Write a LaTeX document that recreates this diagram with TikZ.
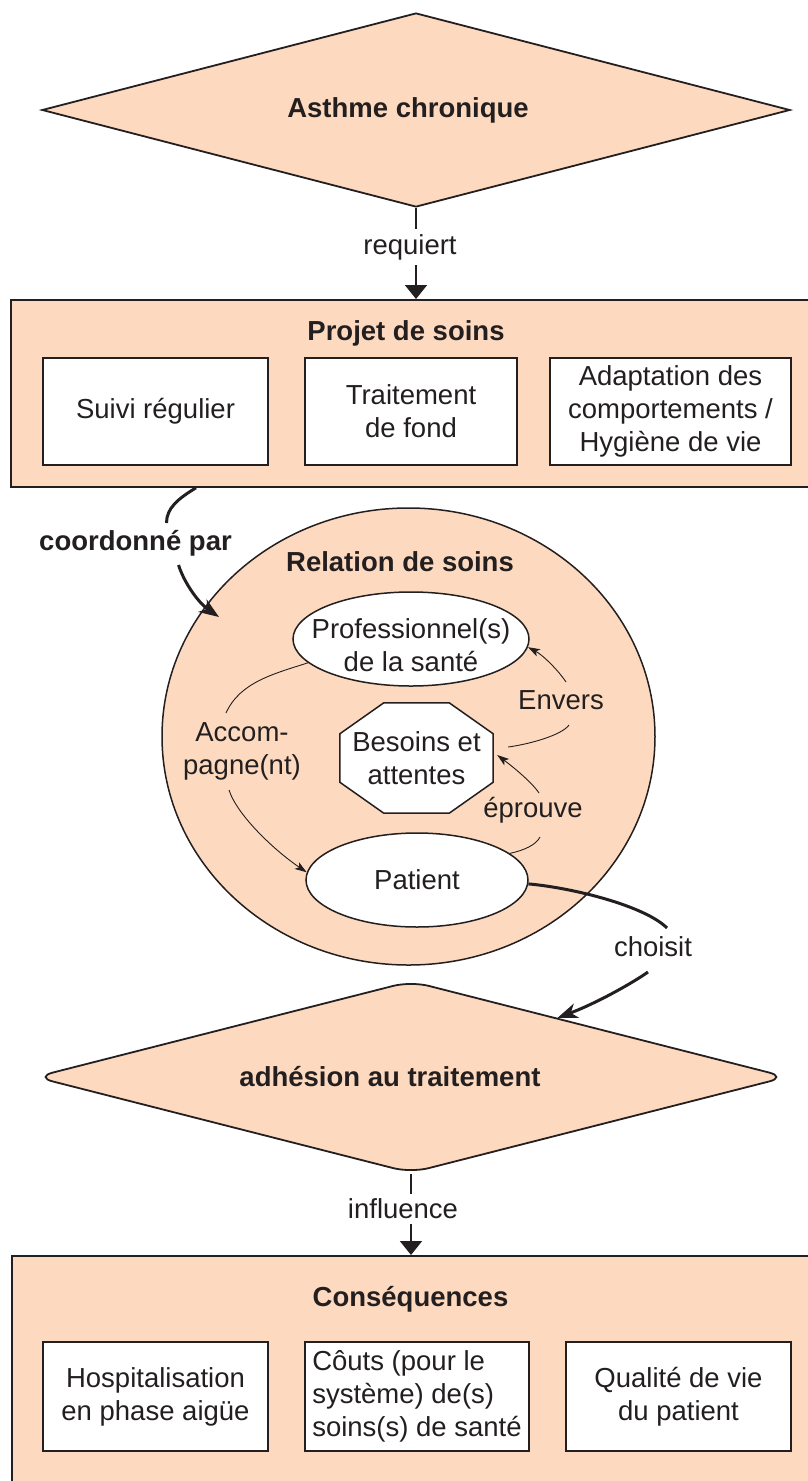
\documentclass[tikz,border=0pt]{standalone}
\usepackage{fontspec}
\setmainfont{Liberation Sans}
\usetikzlibrary{shapes.geometric,arrows.meta,calc}
\definecolor{peach}{RGB}{253,218,191}
\definecolor{ink}{RGB}{35,31,32}
\pgfdeclarelayer{fg}
\pgfsetlayers{main,fg}
\begin{document}
\begin{tikzpicture}[x=1pt,y=-1pt,
  txt/.style={font=\fontsize{27.5}{33}\selectfont, text=ink},
  hd/.style={font=\fontsize{27.5}{33}\selectfont\bfseries, text=ink},
  ol/.style={draw=ink, line width=1.5pt},
  panel/.style={ol, line width=1.8pt, fill=peach, inner sep=0pt},
  wbox/.style={ol, fill=white, inner sep=0pt, align=center, txt, minimum height=107pt},
  lbl/.style={txt, inner sep=0pt, align=center},
  flow/.style={draw=ink, line width=2pt, -{Triangle[length=14pt,width=22pt]}},
  heavyline/.style={draw=ink, line width=3pt},
  heavy/.style={heavyline, -{Stealth[length=20pt,width=15pt,inset=6pt]}},
  fine/.style={draw=ink, line width=0.9pt},
  finearrow/.style={fine, -{Stealth[length=12pt,width=8pt,inset=3pt]}}
]
\useasboundingbox (0,0) rectangle (807,1481);

% top diamond
\node[diamond, ol, line width=1.8pt, fill=peach, aspect=3.86, minimum width=748pt,
      minimum height=194pt, inner sep=0pt,
      label={[hd, xshift=-8pt]center:Asthme chronique}] (asthme) at (416,110) {};

% projet de soins
\node[panel, anchor=north west, minimum width=810pt, minimum height=187pt] (projet) at (10,299) {};
\draw[flow] (asthme.south) -- node[lbl, fill=white, inner sep=5pt, pos=0.43, xshift=-6pt] (req) {requiert} (asthme.south |- projet.north);
\node[hd] (projtitle) at (406,333) {Projet de soins};
\node[wbox, minimum width=225pt] (suivi) at (155.5,411.5) {Suivi régulier};
\node[wbox, minimum width=212pt] (trait) at (411,411.5) {Traitement\\de fond};
\node[wbox, minimum width=241pt] (adapt) at (670.5,411.5) {Adaptation des\\comportements /\\Hygiène de vie};

% relation de soins
\node[ellipse, ol, fill=peach, minimum width=493pt, minimum height=457pt, inner sep=0pt] (rel) at (408.5,736.5) {};
\node[hd] (reltitle) at (400,562) {Relation de soins};

\node[ellipse, ol, fill=white, minimum width=236pt, minimum height=94pt, inner sep=0pt,
      label={[lbl, yshift=-6pt]center:Professionnel(s)\\de la santé}] (prof) at (411,639) {};

\begin{pgfonlayer}{fg}
\node[lbl, minimum width=153pt, minimum height=110pt] (bes) at (416.5,758) {Besoins et\\attentes};
\end{pgfonlayer}
\draw[ol, fill=white] ($(bes.north west)+(44,0)$) -- ($(bes.north east)+(-44,0)$)
  -- ($(bes.north east)+(0,31)$) -- ($(bes.south east)+(0,-31)$)
  -- ($(bes.south east)+(-44,0)$) -- ($(bes.south west)+(44,0)$)
  -- ($(bes.south west)+(0,-31)$) -- ($(bes.north west)+(0,31)$) -- cycle;

\node[ellipse, ol, fill=white, minimum width=222pt, minimum height=94pt, inner sep=0pt, txt] (pat) at (417,880) {Patient};

% labels
\node[lbl] (acc) at (242,751) {Accom-\\pagne(nt)};
\node[lbl] (env) at (561,700) {Envers};
\node[lbl] (epr) at (533,810) {éprouve};
\node[lbl] (cho) at (653,947) {choisit};
\node[hd, inner sep=0pt] (coord) at (135.5,543) {coordonné par};

% coordonné par
\draw[heavyline] ($(projet.south west)+(186,0)$) .. controls +(-18,11) and +(0,-15) .. ($(coord.center)+(31,-20)$);
\draw[heavy] ($(coord.center)+(43,22)$) .. controls +(6.5,20) and +(-19,-13) .. ($(rel.center)+(-189.5,-119.5)$);

% accompagne
\draw[fine] (prof.193) .. controls +(-34,11) and +(14,-31) .. ($(acc.center)+(-16,-38)$);
\draw[finearrow] ($(acc.center)+(-13,39)$) .. controls +(8,25) and +(-32.5,-22) .. (pat.176);

% envers
\draw[fine] ($(bes.east)+(15,-11)$) .. controls +(22,-3) and +(-7,10) .. ($(env.center)+(8,25)$);
\draw[finearrow] ($(env.center)+(5,-18)$) .. controls +(-8,-12) and +(15,8) .. (prof.-4);

% eprouve
\draw[fine] (pat.16) .. controls +(14,-3) and +(-4,8) .. ($(epr.center)+(7,27)$);
\draw[finearrow] ($(epr.center)+(6,-17)$) .. controls +(-8,-12) and +(12,9) .. ($(bes.east)+(4,-3)$);

% adhesion
\node[diamond, ol, line width=1.8pt, fill=peach, aspect=3.9, minimum width=752pt,
      minimum height=192pt, inner sep=0pt, rounded corners=18pt,
      label={[hd, xshift=-21pt]center:adhésion au traitement}] (adh) at (411,1077) {};

% choisit
\draw[heavyline] (pat.-2) .. controls +(45,4) and +(-22,-22) .. ($(cho.center)+(14,-19)$);
\draw[heavy] ($(cho.center)+(-5,25)$) .. controls +(-14,10) and +(40,-15) .. (adh.22.6);

% consequences
\node[panel, anchor=north west, minimum width=808pt, minimum height=300pt] (cons) at (11,1255) {};
\draw[flow] (adh.south) -- node[lbl, fill=white, inner sep=5pt, pos=0.43, xshift=-8pt] (infl) {influence} (adh.south |- cons.north);
\node[hd] (constitle) at (410.5,1299) {Conséquences};
\node[wbox, minimum width=225pt, minimum height=109pt] (hosp) at (155.5,1396.5) {Hospitalisation\\en phase aigüe};
\node[wbox, minimum width=224pt, minimum height=109pt, align=left] (couts) at (417,1396.5) {Côuts (pour le\\système) de(s)\\soins(s) de santé};
\node[wbox, minimum width=225pt, minimum height=109pt] (qual) at (678.5,1396.5) {Qualité de vie\\du patient};
\end{tikzpicture}
\end{document}
